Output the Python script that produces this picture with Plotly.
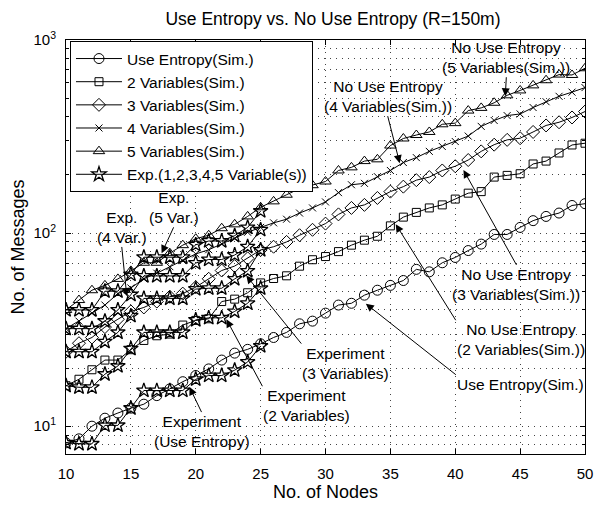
import plotly.graph_objects as go

# ---------------- data ----------------
nodes = list(range(10, 51))
nodes_exp = list(range(10, 26))

use_entropy_sim = [8.2, 8.6, 10.0, 11.0, 11.7, 12.4, 13.0, 14.4, 15.6, 17.0,
                   18.3, 19.8, 22.0, 23.9, 25.0, 26.7, 28.8, 30.6, 33.9, 35.0,
                   38.5, 42.4, 43.3, 47.7, 50.6, 53.6, 56.8, 64.9, 63.0, 70.2,
                   74.8, 81.2, 87.7, 98.4, 98.4, 107, 116, 122, 127, 139, 142]
var2_sim = [16.2, 17.5, 19.6, 22.0, 22.0, 24.9, 27.8, 29.4, 30.0, 33.4,
            35.3, 36.0, 44.2, 45.5, 49.1, 55.2, 58.2, 60.1, 67.4, 72.8,
            75.6, 80.2, 86.6, 91.9, 96.3, 109, 121, 128, 135, 140,
            150, 161, 164, 195, 199, 203, 228, 236, 260, 286, 292]
var3_sim = [24.3, 26.9, 28.8, 32.6, 35.8, 39.3, 41.2, 44.2, 46.8, 48.6,
            52.5, 58.0, 64.0, 67.5, 74.0, 81.8, 85.0, 90.0, 97.5, 104,
            112, 125, 135, 140, 152, 164, 174, 188, 195, 211,
            222, 239, 265, 287, 304, 310, 334, 361, 375, 397, 426]
var4_sim = [32, 35, 38.5, 42.4, 48.6, 52, 58, 62, 67, 72,
            78, 82, 88, 94, 101, 107, 113, 118, 127, 135,
            145, 162, 178, 181, 196, 211, 232, 246, 265, 281,
            298, 318, 357, 383, 406, 414, 447, 479, 511, 537, 567]
var5_sim = [40, 45, 50.6, 53.6, 57.9, 63.7, 70.2, 70.2, 78.7, 86.6,
            93.5, 97.5, 106, 111, 122, 136, 146, 158, 170, 177,
            185, 211, 219, 236, 241, 284, 309, 322, 334, 366,
            371, 431, 445, 473, 517, 548, 582, 619, 662, 659, 714]

exp1 = [8.2, 8.1, 8.1, 10.1, 10.1, 12.4, 15.3, 15.3, 15.3, 15.3, 17.5, 18.3, 18.3, 19.5, 21.5, 26.0]
exp2 = [16.2, 15.9, 15.9, 18.6, 20.5, 25.2, 30.6, 30.6, 30.6, 30.6, 35.5, 36.4, 36.4, 39.3, 43.3, 51.8]
exp3 = [24.3, 24.3, 24.3, 27.4, 30.6, 37.3, 45.9, 45.9, 45.9, 45.9, 51.3, 51.8, 51.8, 57.9, 63.7, 81.8]
exp4 = [32, 32, 32, 35, 40, 48, 60, 60, 60, 60, 70, 73, 73, 77, 85, 104]
exp5 = [40, 40, 40, 50, 50, 61, 75, 75, 75, 75, 87, 91, 91, 97, 107, 130]

x_ticks = [10, 15, 20, 25, 30, 35, 40, 45, 50]
y_ticks = [10, 100, 1000]
y_ticktext = ["10<sup>1</sup>", "10<sup>2</sup>", "10<sup>3</sup>"]
y_minor = [8, 9] + [k * 10 for k in range(2, 10)] + [k * 100 for k in range(2, 10)]

sim_names = ["Use Entropy(Sim.)", "2 Variables(Sim.)", "3 Variables(Sim.)",
             "4 Variables(Sim.)", "5 Variables(Sim.)"]
exp_name = "Exp.(1,2,3,4,5 Variable(s))"

# ---------------- figure ----------------
FONT = "Liberation Sans, Arial, Helvetica, sans-serif"
fig = go.Figure()

sim_series = [use_entropy_sim, var2_sim, var3_sim, var4_sim, var5_sim]
sim_markers = [("circle-open", 10), ("square-open", 8), ("diamond-open", 10),
               ("x-thin-open", 7), ("triangle-up-open", 10)]
for name, vals, (sym, sz) in zip(sim_names, sim_series, sim_markers):
    fig.add_trace(go.Scatter(
        x=nodes, y=vals, mode="lines+markers", name=name,
        line=dict(color="black", width=1),
        marker=dict(symbol=sym, size=sz, color="black",
                    line=dict(color="black", width=1)),
    ))

for i, vals in enumerate([exp1, exp2, exp3, exp4, exp5]):
    fig.add_trace(go.Scatter(
        x=nodes_exp, y=vals, mode="lines+markers", name=exp_name,
        legendgroup="exp", showlegend=(i == 0),
        line=dict(color="black", width=1),
        marker=dict(symbol="star-open", size=11, color="black",
                    line=dict(color="black", width=1.3)),
    ))

# plot-area pixel geometry used for annotation placement
L, R, T, B = 66, 587, 40, 467


def px(xp):
    return (xp - L) / (R - L)


def py(yp):
    return (B - yp) / (B - T)


# label text, arrow tip (pixels), arrow tail (pixels), text anchor at tail
callouts = [
    ("Exp.<br>(4 Var.)", (127, 304), (122, 255), "center", "bottom"),
    ("Exp.<br>(5 Var.)", (162, 260), (174, 234), "center", "bottom"),
    ("Experiment<br>(Use Entropy)", (190, 398), (202, 423), "center", "top"),
    ("Experiment<br>(2 Variables)", (227, 328), (263, 395), "left", "top"),
    ("Experiment<br>(3 Variables)", (247, 283), (302, 351), "left", "top"),
    ("Use Entropy(Sim.)", (367, 312), (457, 383), "left", "top"),
    ("No Use Entropy<br>(2 Variables(Sim.))", (397, 230), (457, 326), "left", "top"),
    ("No Use Entropy<br>(3 Variables(Sim.))", (465, 174), (518, 269), "center", "top"),
    ("No Use Entropy<br>(4 Variables(Sim.))", (401, 167), (389, 120), "center", "bottom"),
    ("No Use Entropy<br>(5 Variables(Sim.))", (507, 98), (508, 79), "center", "bottom"),
]
ann = []
for text, (hx, hy), (tx, ty), xa, ya in callouts:
    ann.append(dict(
        x=px(hx), y=py(hy), xref="paper", yref="paper", text=text,
        showarrow=True, ax=tx - hx, ay=ty - hy, xanchor=xa, yanchor=ya,
        arrowhead=2, arrowsize=1.6, arrowwidth=1, arrowcolor="black",
        standoff=0, startstandoff=0, borderpad=0,
        font=dict(family=FONT, size=15.5, color="black"),
    ))

grid_dash = "1px,5px"
fig.update_layout(
    width=605, height=509,
    margin=dict(l=L, r=605 - R, t=T, b=509 - B),
    paper_bgcolor="white", plot_bgcolor="white",
    font=dict(family=FONT, size=15, color="black"),
    title=dict(text="Use Entropy vs. No Use Entropy (R=150m)",
               x=333 / 605, xanchor="center",
               y=1 - 19 / 509, yanchor="middle", yref="container",
               font=dict(family=FONT, size=17.5, color="black")),
    showlegend=True,
    legend=dict(x=px(70), y=py(41), xanchor="left", yanchor="top",
                bgcolor="white", bordercolor="black", borderwidth=1,
                font=dict(family=FONT, size=15.5, color="black"),
                itemwidth=46,
                traceorder="normal", tracegroupgap=0),
    annotations=ann,
)
fig.update_xaxes(
    range=[10, 50], tickvals=x_ticks, ticks="inside", ticklen=5,
    tickcolor="black", showline=True, linecolor="black", linewidth=1,
    mirror="allticks", showgrid=True, gridcolor="#444", gridwidth=1,
    griddash=grid_dash, zeroline=False, ticklabelstandoff=6,
    title=dict(text="No. of Nodes", standoff=2),
    tickfont=dict(family=FONT, size=15),
)
fig.update_yaxes(
    type="log", range=[0.856, 3.0], tickvals=y_ticks, ticktext=y_ticktext,
    ticks="inside", ticklen=5, tickcolor="black", showline=True,
    linecolor="black", linewidth=1, mirror="allticks",
    showgrid=True, gridcolor="#444", gridwidth=1, griddash=grid_dash,
    zeroline=False, ticklabelstandoff=6,
    minor=dict(tickvals=y_minor, ticks="inside", ticklen=3,
               tickcolor="black", showgrid=True, gridcolor="#444",
               gridwidth=1, griddash=grid_dash),
    title=dict(text="No. of Messages", standoff=4),
    tickfont=dict(family=FONT, size=15),
)

fig.write_html("out.html")
